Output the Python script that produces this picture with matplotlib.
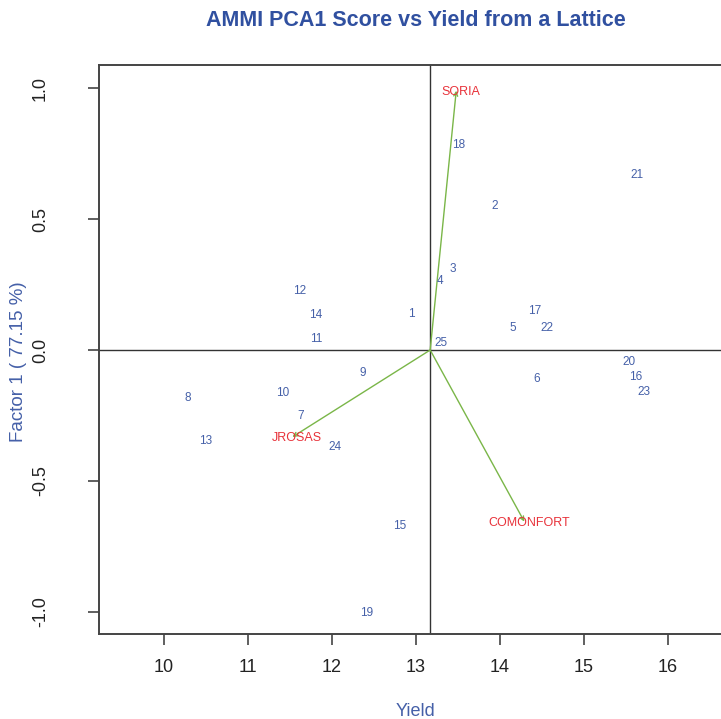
import matplotlib
matplotlib.use('Agg')
import matplotlib.pyplot as plt

plt.rcParams['font.family'] = ['Liberation Sans', 'DejaVu Sans']

# genotype mean yield and PCA1 score
genotypes = [str(i) for i in range(1, 26)]
geno_yield = [12.95, 13.94, 13.44, 13.29, 14.15, 14.44, 11.63, 10.29, 12.37, 11.42,
              11.82, 11.62, 10.50, 11.81, 12.81, 15.62, 14.41, 13.51, 12.41, 15.53,
              15.63, 14.56, 15.71, 12.04, 13.30]
geno_pca1 = [0.137, 0.551, 0.308, 0.265, 0.083, -0.111, -0.252, -0.184, -0.089, -0.165,
             0.042, 0.225, -0.347, 0.134, -0.672, -0.102, 0.149, 0.782, -1.005, -0.047,
             0.670, 0.083, -0.159, -0.369, 0.028]

# environments
envs = ['SORIA', 'JROSAS', 'COMONFORT']
env_yield = [13.48, 11.53, 14.29]
env_pca1 = [0.99, -0.332, -0.655]

grand_mean = 13.17

BLUE = '#4560a8'
RED = '#e8323a'
GREEN = '#7ab648'

fig = plt.figure(figsize=(7.21, 7.19), dpi=100)
ax = fig.add_axes([99 / 721, 85 / 719, 659 / 721, 569 / 719])
ax.set_xlim(9.23, 17.07)
ax.set_ylim(-1.084, 1.088)

ax.axhline(0, color='#333333', lw=1.0, zorder=1)
ax.axvline(grand_mean, color='#333333', lw=1.0, zorder=1)

for g, x, y in zip(genotypes, geno_yield, geno_pca1):
    ax.text(x, y, g, color=BLUE, fontsize=8.5, ha='center', va='center', zorder=3)

for e, x, y in zip(envs, env_yield, env_pca1):
    ax.annotate('', xy=(x, y), xytext=(grand_mean, 0),
                arrowprops=dict(arrowstyle='->', color=GREEN, lw=1.0,
                                mutation_scale=7, shrinkA=0, shrinkB=0),
                zorder=2)
    ax.text(x + 0.06, y - 0.005, e, color=RED, fontsize=9, ha='center', va='center',
            zorder=3)

for s in ['top', 'left', 'bottom']:
    ax.spines[s].set_color('#444444')
    ax.spines[s].set_linewidth(1.4)
ax.spines['right'].set_visible(False)

ax.set_xticks(range(10, 17))
ax.set_xticklabels([str(v) for v in range(10, 17)])
yt = [-1.0, -0.5, 0.0, 0.5, 1.0]
ax.set_yticks(yt)
ax.set_yticklabels(['-1.0', '-0.5', '0.0', '0.5', '1.0'], rotation=90, va='center')
ax.tick_params(axis='both', length=8, width=1.2, color='#444444', labelsize=13,
               labelcolor='#222222')
ax.tick_params(axis='x', pad=10)
ax.tick_params(axis='y', pad=28)

ax.set_xlabel('Yield', color=BLUE, fontsize=13, va='center')
ax.xaxis.set_label_coords(416 / 659 - 99 / 659, (634 - 711) / 569)
ax.set_ylabel('Factor 1 ( 77.15 %)', color=BLUE, fontsize=13.5, va='center')
ax.yaxis.set_label_coords((19 - 99) / 659, (634 - 362) / 569)

fig.text(416 / 721, 1 - 20 / 719, 'AMMI PCA1 Score vs Yield from a Lattice',
         color='#3050a0', fontsize=15.5, fontweight='bold', ha='center', va='center')

fig.savefig('out.png', dpi=100, facecolor='white')
